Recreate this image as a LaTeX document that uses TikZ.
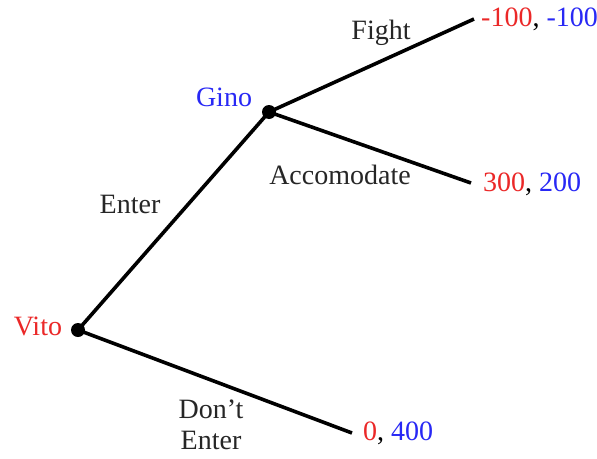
\documentclass[tikz,border=0pt]{standalone}
\usepackage{fontspec}
\setmainfont{Liberation Serif}
\definecolor{pred}{RGB}{235,40,40}
\definecolor{pblue}{RGB}{40,40,245}
\begin{document}
\begin{tikzpicture}[x=1pt,y=-1pt,
  edge/.style={line width=3.6pt,black},
  dot/.style={circle,fill=black,inner sep=0pt,minimum size=14pt},
  lbl/.style={font=\fontsize{28}{32}\selectfont,text=black!85,inner sep=0pt},
  pay/.style={font=\fontsize{28}{32}\selectfont,inner sep=0pt,anchor=west}]
\useasboundingbox (0,0) rectangle (597,458);
\fill[white] (0,0) rectangle (597,458);
\node[dot] (vito) at (78,330) {};
\node[dot] (gino) at (269,112) {};
\coordinate (fe) at (474,19);
\coordinate (ae) at (471,183);
\coordinate (de) at (352,433);
\draw[edge] (vito.center) -- (gino.center);
\draw[edge] (gino.center) -- (fe);
\draw[edge] (gino.center) -- (ae);
\draw[edge] (vito.center) -- (de);
\node[lbl,text=pred] (vitol) at (38,326) {Vito};
\node[lbl,text=pblue] (ginol) at (224,97) {Gino};
\node[lbl] (enter) at (130,204) {Enter};
\node[lbl] (fight) at (381,33) {Fight};
\node[lbl] (acc) at (340,175) {Accomodate};
\node[lbl,align=center] (dont) at (211,425) {Don’t\\[-1pt]Enter};
\node[pay] (p1) at (481,19) {\textcolor{pred}{-100}, \textcolor{pblue}{-100}};
\node[pay] (p2) at (483,184) {\textcolor{pred}{300}, \textcolor{pblue}{200}};
\node[pay] (p3) at (363,433) {\textcolor{pred}{0}, \textcolor{pblue}{400}};
\end{tikzpicture}
\end{document}
